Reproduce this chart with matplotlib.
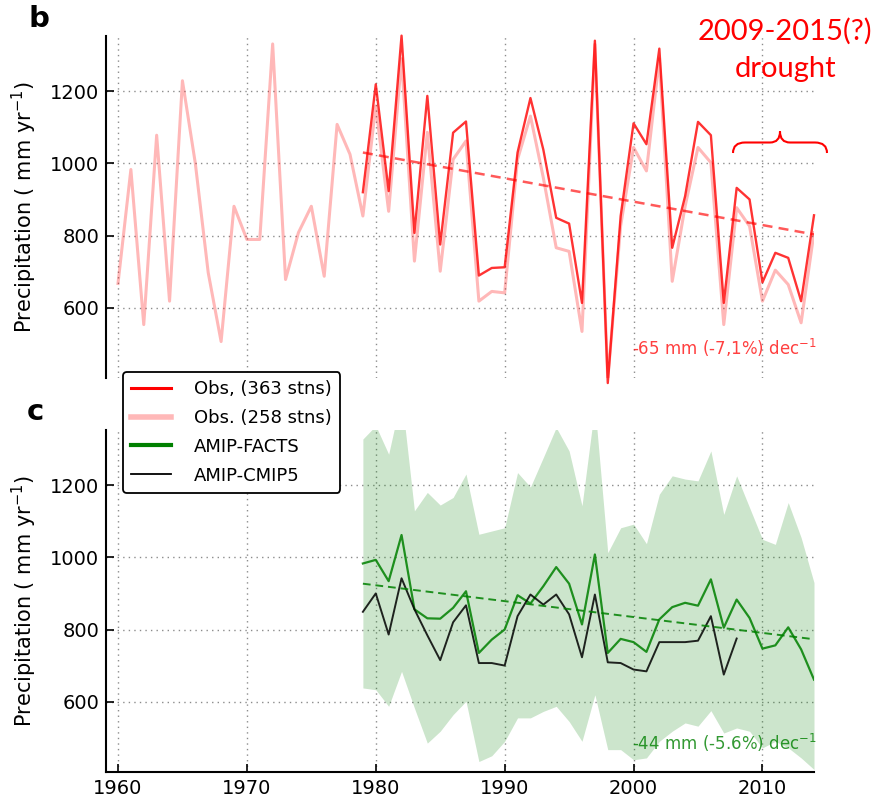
import numpy as np
import matplotlib
matplotlib.use("Agg")
import matplotlib.pyplot as plt
from matplotlib.path import Path
from matplotlib.patches import PathPatch
from matplotlib.lines import Line2D

# ---------------- data ----------------
years_258 = list(range(1960, 2015))
obs_258 = [667, 983, 553, 1078, 618, 1229, 1000, 697, 506, 881,
           789, 789, 1331, 678, 808, 881, 687, 1108, 1025, 854,
           1159, 867, 1290, 729, 1086, 701, 1011, 1062, 618, 645,
           641, 1011, 1131, 960, 766, 756, 534, 1330, 400, 827,
           1044, 979, 1290, 673, 881, 1044, 1002, 553, 877, 826,
           618, 704, 664, 558, 808]

years_363 = list(range(1979, 2015))
obs_363 = [920, 1219, 923, 1354, 807, 1187, 775, 1085, 1116, 689,
           710, 712, 1030, 1181, 1038, 849, 833, 613, 1340, 391,
           854, 1111, 1053, 1318, 766, 909, 1115, 1078, 613, 932,
           900, 670, 752, 738, 618, 856]

years_facts = list(range(1979, 2015))
amip_facts = [983, 993, 934, 1062, 856, 831, 830, 860, 906, 735,
              772, 800, 895, 872, 920, 973, 927, 814, 1008, 735,
              774, 765, 738, 828, 862, 874, 866, 939, 805, 883,
              832, 747, 756, 806, 745, 661]
facts_upper = [1328, 1365, 1286, 1447, 1129, 1180, 1145, 1166, 1231, 1064,
               1073, 1082, 1235, 1195, 1277, 1360, 1295, 1143, 1420, 1013,
               1082, 1092, 1038, 1175, 1226, 1217, 1212, 1295, 1119, 1226,
               1138, 1050, 1036, 1152, 1055, 930]
facts_lower = [638, 633, 587, 684, 582, 485, 518, 564, 601, 434,
               450, 490, 555, 555, 573, 587, 545, 490, 619, 467,
               467, 439, 444, 490, 518, 541, 532, 575, 513, 527,
               518, 472, 490, 472, 444, 412]

years_cmip5 = list(range(1979, 2009))
amip_cmip5 = [849, 900, 786, 942, 856, 784, 715, 820, 867, 707,
              707, 700, 837, 897, 869, 897, 842, 723, 897, 709,
              707, 689, 684, 765, 765, 765, 769, 837, 675, 775]

trend_years = [1979, 2014]
obs_trend = [1030, 803]
facts_trend = [927, 773]

yticks = [600, 800, 1000, 1200]
xticks = [1960, 1970, 1980, 1990, 2000, 2010]
labels = ["Obs, (363 stns)", "Obs. (258 stns)", "AMIP-FACTS", "AMIP-CMIP5"]
obs_trend_txt = r"-65 mm (-7,1%) dec$^{-1}$"
facts_trend_txt = r"-44 mm (-5.6%) dec$^{-1}$"

# ---------------- figure ----------------
W, H = 875, 806
fig = plt.figure(figsize=(W / 100, H / 100), dpi=100)

def fx(x):
    return x / W

def fy(y):
    return 1 - y / H

L, R = 106, 814
ax1 = fig.add_axes([fx(L), fy(378), (R - L) / W, (378 - 36) / H])
ax2 = fig.add_axes([fx(L), fy(772), (R - L) / W, (772 - 430) / H])

XLIM = (1959.07, 2014.0)
YLIM = (405, 1353)

for ax in (ax1, ax2):
    ax.set_xlim(*XLIM)
    ax.set_ylim(*YLIM)
    ax.set_xticks(xticks)
    ax.set_yticks(yticks)
    ax.grid(True, color="0.55", linestyle=(0, (1, 3)), linewidth=1.0)
    ax.spines["top"].set_visible(False)
    ax.spines["right"].set_visible(False)
    ax.spines["left"].set_linewidth(1.5)
    ax.spines["bottom"].set_linewidth(1.5)
    ax.tick_params(direction="in", length=6, width=1.2, labelsize=14,
                   top=False, right=False, pad=5)
    ax.set_ylabel(r"Precipitation ( mm yr$^{-1}$)", fontsize=15)
    ax.yaxis.set_label_coords(-0.095, 0.5)
    ax.set_axisbelow(True)

ax1.spines["bottom"].set_visible(False)
ax1.tick_params(bottom=False, labelbottom=False)

# top panel
ax1.plot(years_258, obs_258, color="red", alpha=0.28, lw=2.2, zorder=3)
ax1.plot(years_363, obs_363, color="red", alpha=0.8, lw=1.7, zorder=4,
         clip_on=False)
ax1.plot(trend_years, obs_trend, color="red", alpha=0.65, lw=1.8,
         linestyle=(0, (4, 2.5)), zorder=4)
ax1.text(1999.9, 470, obs_trend_txt, color="red", alpha=0.75, fontsize=12,
         va="baseline", ha="left")

# bottom panel
ax2.fill_between(years_facts, facts_lower, facts_upper, color="green",
                 alpha=0.2, lw=0, zorder=2)
ax2.plot(years_facts, amip_facts, color="green", lw=1.6, alpha=0.85, zorder=4)
ax2.plot(years_cmip5, amip_cmip5, color="black", lw=1.4, alpha=0.85, zorder=4)
ax2.plot(trend_years, facts_trend, color="green", alpha=0.85, lw=1.4,
         linestyle=(0, (4, 2.5)), zorder=4)
ax2.text(1999.9, 466, facts_trend_txt, color="green", alpha=0.8, fontsize=12,
         va="baseline", ha="left")

# panel letters
fig.text(fx(29), fy(5), "b", fontsize=21, fontweight="bold", va="top", ha="left")
fig.text(fx(27), fy(398), "c", fontsize=21, fontweight="bold", va="top", ha="left")

# legend
handles = [
    Line2D([], [], color="red", lw=2.2),
    Line2D([], [], color="red", alpha=0.28, lw=4.0),
    Line2D([], [], color="green", lw=3.0),
    Line2D([], [], color="black", lw=1.3),
]
leg = fig.legend(handles, labels, loc="upper left",
                 bbox_to_anchor=(fx(123), fy(372)), bbox_transform=fig.transFigure,
                 borderaxespad=0, fontsize=13, fancybox=True, framealpha=1,
                 edgecolor="black", handlelength=2.2, handletextpad=1.3,
                 labelspacing=0.6, borderpad=0.45)
leg.get_frame().set_linewidth(1.3)

# drought annotation
fig.text(fx(785), fy(40), "2009-2015(?)", color="red", fontsize=21,
         family=["Lato", "DejaVu Sans"], ha="center", va="baseline")
fig.text(fx(786), fy(77), "drought", color="red", fontsize=21,
         family=["Lato", "DejaVu Sans"], ha="center", va="baseline")

bx = [733, 733, 745, 770, 780, 780, 780, 790, 815, 827, 827]
by = [153, 142.5, 142.5, 142.5, 142.5, 131.5, 142.5, 142.5, 142.5, 142.5, 153]
codes = [Path.MOVETO, Path.CURVE3, Path.CURVE3, Path.LINETO,
         Path.CURVE3, Path.CURVE3, Path.CURVE3, Path.CURVE3,
         Path.LINETO, Path.CURVE3, Path.CURVE3]
verts = [(fx(x), fy(y)) for x, y in zip(bx, by)]
brace = PathPatch(Path(verts, codes), transform=fig.transFigure,
                  facecolor="none", edgecolor="red", lw=1.5)
fig.add_artist(brace)

fig.savefig("out.png", dpi=100)
